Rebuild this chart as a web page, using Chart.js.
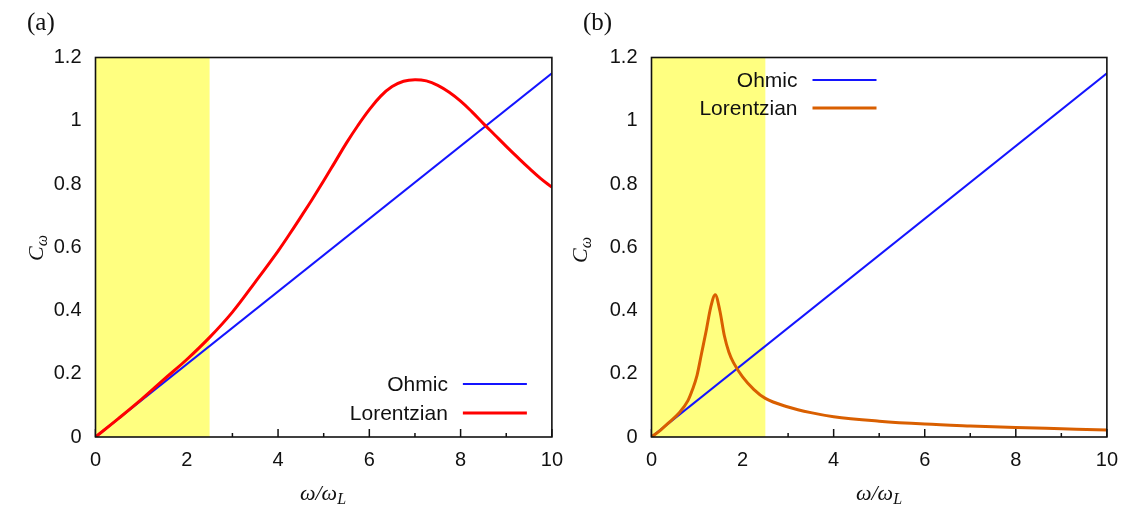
<!doctype html>
<html lang="en">
<head>
<meta charset="utf-8" />
<title>C_omega: Ohmic vs Lorentzian</title>
<script src="https://cdn.jsdelivr.net/npm/chart.js@4"></script>
<style>
  html, body { margin: 0; padding: 0; background: #fff; }
  #wrap { position: relative; width: 1126px; height: 507px; overflow: hidden; }
  canvas { position: absolute; top: 0; }
  .tag { position: absolute; font-family: "Liberation Serif", "DejaVu Serif", serif; font-size: 25px; line-height: 1; color: #111; }
  .ttl { position: absolute; font-family: "Liberation Serif", "DejaVu Serif", serif; font-style: italic; font-size: 22px; line-height: 1; color: #111; white-space: nowrap; transform: translate(-50%, -50%); }
  .ttl sub { font-size: 16px; vertical-align: -4px; line-height: 0; }
  .rot { transform: translate(-50%, -50%) rotate(-90deg); }
</style>
</head>
<body>
<div id="wrap">
  <canvas id="ca" width="574" height="507" style="left:0"></canvas>
  <canvas id="cb" width="573" height="507" style="left:556px"></canvas>
  <div class="tag" style="left:27px;top:9px">(a)</div>
  <div class="tag" style="left:583px;top:9px">(b)</div>
  <div class="ttl rot" style="left:36px;top:248px">C<sub>ω</sub></div>
  <div class="ttl rot" style="left:580px;top:250px">C<sub>ω</sub></div>
  <div class="ttl" style="left:323px;top:493px">ω/ω<sub>L</sub></div>
  <div class="ttl" style="left:879px;top:493px">ω/ω<sub>L</sub></div>
</div>
<script>
// values
const xRange = [0, 10];
const yRange = [0, 1.2];
const shadeEnd = 2.5;

const ohmicX = [0, 10];
const ohmicY = [0, 1.15];

// panel (a): broad Lorentzian peaked near 7
const lorAX = [0, 0.5, 1, 1.5, 2, 2.5, 3, 3.5, 4, 4.25, 4.5, 4.75, 5, 5.25, 5.5, 5.75, 6, 6.25, 6.5, 6.75, 7,
               7.25, 7.5, 7.75, 8, 8.25, 8.5, 8.75, 9, 9.25, 9.5, 9.75, 10];
const lorAY = [0, 0.058, 0.118, 0.182, 0.245, 0.315, 0.395, 0.49, 0.588, 0.641, 0.696, 0.752, 0.81, 0.87, 0.93, 0.985, 1.035, 1.078, 1.108, 1.125, 1.13,
               1.126, 1.112, 1.09, 1.062, 1.028, 0.991, 0.955, 0.919, 0.884, 0.85, 0.818, 0.79];

// panel (b): narrow Lorentzian peaked near 1.4
const lorBX = [0, 0.2, 0.4, 0.6, 0.8, 0.9, 1.0, 1.1, 1.2, 1.3, 1.4, 1.5, 1.6, 1.7, 1.8, 2.0, 2.25, 2.5, 3, 3.5, 4, 5, 6, 7, 8, 9, 10];
const lorBY = [0, 0.022, 0.048, 0.075, 0.115, 0.15, 0.195, 0.265, 0.335, 0.41, 0.45, 0.40, 0.32, 0.268, 0.235, 0.19, 0.15, 0.122, 0.095, 0.077, 0.064, 0.05, 0.041, 0.035, 0.03, 0.026, 0.022];

const seriesNames = ["Ohmic", "Lorentzian"];
const ohmicColor = "#1414ff";
const lorColorA = "#ff0000";
const lorColorB = "#d95f00";
const shadeColor = "#ffff80";

const pts = (xs, ys) => xs.map((x, i) => ({ x, y: ys[i] }));

const framePlugin = {
  id: "frame",
  beforeDatasetsDraw(chart, args, opts) {
    const { ctx, chartArea: a, scales: { x } } = chart;
    ctx.save();
    // inward ticks on the bottom axis (hidden under the band where it covers them)
    ctx.strokeStyle = "#111";
    ctx.lineWidth = 1.5;
    x.ticks.forEach((t) => {
      const px = x.getPixelForValue(t.value);
      const len = t.value % 2 === 0 ? 8 : 4;
      ctx.beginPath();
      ctx.moveTo(px, a.bottom);
      ctx.lineTo(px, a.bottom - len);
      ctx.stroke();
    });
    // shaded region
    const x0 = x.getPixelForValue(xRange[0]);
    const x1 = x.getPixelForValue(shadeEnd);
    ctx.fillStyle = shadeColor;
    ctx.fillRect(x0, a.top, x1 - x0, a.bottom - a.top);
    ctx.restore();
  },
  afterDatasetsDraw(chart, args, opts) {
    const { ctx, chartArea: a } = chart;
    ctx.save();
    ctx.strokeStyle = "#111";
    ctx.lineWidth = 1.6;
    ctx.strokeRect(a.left, a.top, a.right - a.left, a.bottom - a.top);

    // legend: text right-aligned, then a line sample
    const ax = opts.fromRight ? a.right - opts.dx : a.left + opts.dx;
    ctx.font = "21px 'Liberation Sans', Arial, sans-serif";
    ctx.textAlign = "right";
    ctx.textBaseline = "middle";
    chart.data.datasets.forEach((ds, i) => {
      const yy = opts.fromBottom ? a.bottom - opts.rows[i] : a.top + opts.rows[i];
      ctx.fillStyle = "#111";
      ctx.fillText(ds.label, ax, yy + 1);
      ctx.strokeStyle = ds.borderColor;
      ctx.lineWidth = ds.borderWidth;
      ctx.beginPath();
      ctx.moveTo(ax + 15, yy);
      ctx.lineTo(ax + 79, yy);
      ctx.stroke();
    });
    ctx.restore();
  },
};

function makeChart(id, lorX, lorY, lorColor, interp, padRight, legendOpts) {
  return new Chart(document.getElementById(id), {
    type: "line",
    data: {
      datasets: [
        { label: seriesNames[0], data: pts(ohmicX, ohmicY), borderColor: ohmicColor, borderWidth: 2, pointRadius: 0, order: 1 },
        { label: seriesNames[1], data: pts(lorX, lorY), borderColor: lorColor, borderWidth: 3, pointRadius: 0,
          cubicInterpolationMode: interp, tension: 0.4, order: 0 },
      ],
    },
    options: {
      responsive: false,
      animation: false,
      events: [],
      layout: { padding: { top: 57.5, right: padRight, bottom: 0, left: 0 } },
      plugins: { legend: { display: false }, tooltip: { enabled: false }, frame: legendOpts },
      scales: {
        x: {
          type: "linear",
          min: xRange[0],
          max: xRange[1],
          grid: { display: false, drawTicks: false },
          border: { display: false },
          afterFit: (s) => { s.height = 70; },
          ticks: {
            stepSize: 1,
            autoSkip: false,
            maxRotation: 0,
            padding: 11,
            color: "#111",
            font: { family: "'Liberation Sans', Arial, sans-serif", size: 20 },
            callback: (v) => (v % 2 === 0 ? String(v) : ""),
          },
        },
        y: {
          min: yRange[0],
          max: yRange[1],
          grid: { display: false, drawTicks: false },
          border: { display: false },
          afterFit: (s) => { s.width = 95.5; },
          ticks: {
            stepSize: 0.2,
            padding: 14,
            color: "#111",
            font: { family: "'Liberation Sans', Arial, sans-serif", size: 20 },
            callback: (v) => String(Math.round(v * 10) / 10),
          },
        },
      },
    },
    plugins: [framePlugin],
  });
}

makeChart("ca", lorAX, lorAY, lorColorA, "default", 0, { fromRight: true, dx: 104, fromBottom: true, rows: [53, 24] });
makeChart("cb", lorBX, lorBY, lorColorB, "monotone", 0, { fromRight: false, dx: 146, fromBottom: false, rows: [22.5, 50.5] });
</script>
</body>
</html>
